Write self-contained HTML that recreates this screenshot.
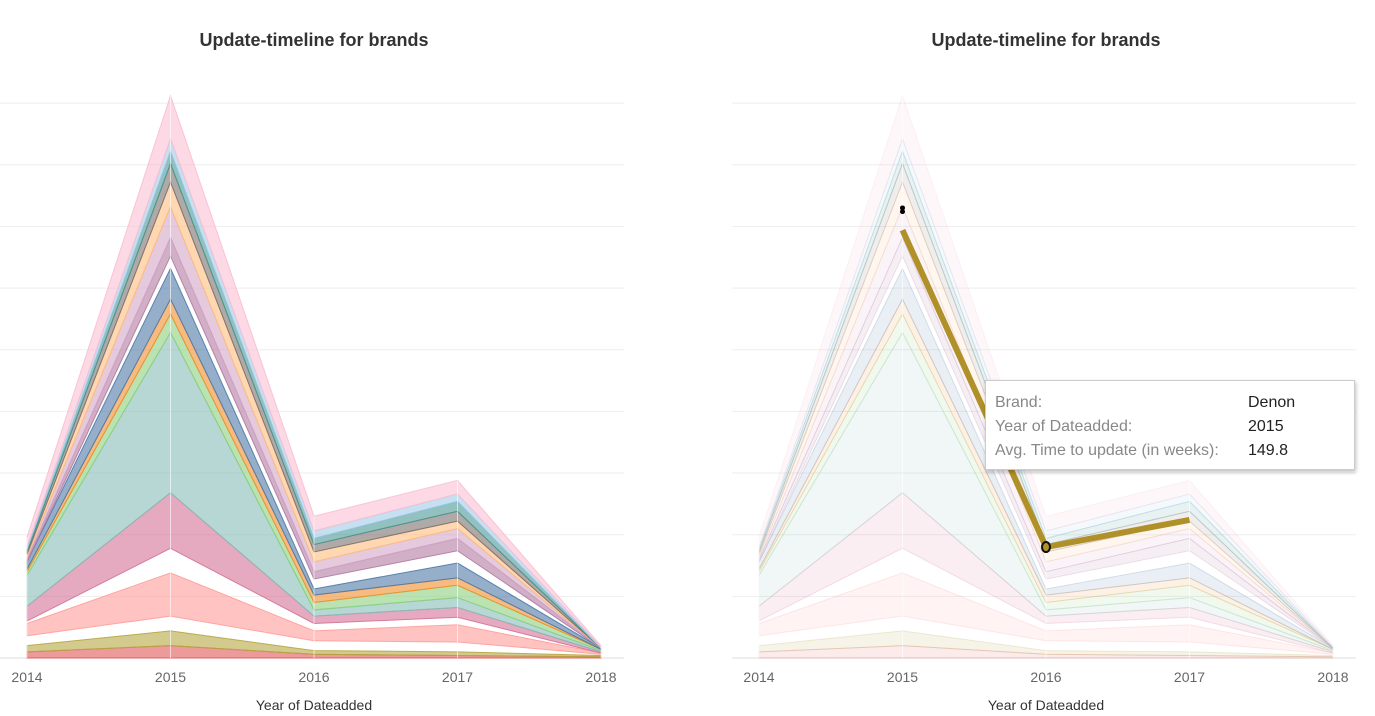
<!DOCTYPE html>
<html><head><meta charset="utf-8">
<style>
body{margin:0;background:#fff;font-family:"Liberation Sans",sans-serif;}
svg{display:block}
.title{font-weight:bold;font-size:18px;fill:#333}
.tick{font-size:14px;fill:#666}
.axt{font-size:14px;fill:#333}
#tip{position:absolute;left:985px;top:380px;width:368px;height:88px;background:#fff;border:1px solid #ccc;box-shadow:1px 2px 4px rgba(0,0,0,.25);font-size:16px}
#tip div{position:absolute;left:9px}
#tip span{position:absolute;left:253px;color:#222}
</style></head><body>
<svg id="chart" width="1375" height="716"></svg>
<div id="tip">
<div style="top:13px;color:#888">Brand:<span>Denon</span></div>
<div style="top:37px;color:#888">Year of Dateadded:<span>2015</span></div>
<div style="top:61px;color:#888">Avg. Time to update (in weeks):<span>149.8</span></div>
</div>
<script>
const years=["2014","2015","2016","2017","2018"];
const red=[5,10,3,2,1];
const olive=[5,12,3,3,1];
const gap1=[8,12,8,8,1];
const salmon=[10,35,8,14,1];
const gap2=[2,20,6,6,0];
const mauve=[12,45,6,8,1];
const teal=[25,130,5,8,1];
const green=[3,15,6,10,1];
const orange=[2,12,6,6,0];
const blue=[6,25,5,12,1];
const gap3=[0,10,8,10,0];
const purple=[2,15,6,10,0];
const lilac=[2,25,8,8,0];
const peach=[2,20,8,6,0];
const gray=[2,15,6,8,0];
const darkteal=[2,10,5,8,0];
const lightblue=[2,10,6,6,1];
const pink=[8,35,12,11,1];
const series=[red,olive,gap1,salmon,gap2,mauve,teal,green,orange,blue,gap3,purple,lilac,peach,gray,darkteal,lightblue,pink];
const colors=["#e15759","#b5a642","none","#ff9d9a","none","#d37295","#86bcb6","#8cd17d","#f28e2b","#4e79a7","none","#b07aa1","#d4a6c8","#ffbe7d","#79706e","#499894","#a0cbe8","#fabfd2"];
const denonYears=["2015","2016","2017"];
const denonTop=[347,90,112];
const gridTicks=[0,50,100,150,200,250,300,350,400,450];
const svg=document.getElementById('chart');
const NS="http://www.w3.org/2000/svg";
function y(v){return 658-v*1.233;}
function mk(t,a){const e=document.createElementNS(NS,t);for(const k in a)e.setAttribute(k,a[k]);svg.appendChild(e);return e;}
function drawPanel(x0,dim,hl){
  const xs=i=>x0+i*143.5;
  const title=mk('text',{x:x0+287,y:46,'text-anchor':'middle',class:'title'});title.textContent='Update-timeline for brands';
  
  
  gridTicks.forEach(g=>{const l=mk('line',{x1:x0-27,x2:x0+597,y1:y(g),y2:y(g),stroke:g==0?'#ddd':'#eee'});
    
    });
  let base=[0,0,0,0,0];
  series.forEach((s,k)=>{
    const top=s.map((v,i)=>base[i]+v);
    if(colors[k]!=='none'){
      let d='M'+years.map((_,i)=>xs(i)+','+y(top[i])).join('L');
      d+='L'+years.map((_,i)=>xs(4-i)+','+y(base[4-i])).join('L')+'Z';
      const p=mk('path',{d:d,fill:colors[k],'fill-opacity':dim?0.12:0.6,stroke:colors[k],'stroke-opacity':dim?0.2:0.9,'stroke-width':1});
      
      
    }
    base=top;
  });
  years.forEach((yr,i)=>{
    const l=mk('line',{x1:xs(i),x2:xs(i),y1:y(0),y2:y(base[i]),stroke:'#fff','stroke-opacity':0.6});
    
    
    const t=mk('text',{x:xs(i),y:682,'text-anchor':'middle',class:'tick'});t.textContent=yr;
    
    
  });
  const at=mk('text',{x:x0+287,y:710,'text-anchor':'middle',class:'axt'});at.textContent='Year of Dateadded';
  
  
  if(hl){
    const pts=denonYears.map((yr,i)=>[xs(years.indexOf(yr)),y(denonTop[i])]);
    const d='M'+pts.map(p=>p.join(',')).join('L');
    const ln=mk('path',{d:d,fill:'none',stroke:'#b09028','stroke-width':6});
    
    
    const c=mk('ellipse',{cx:pts[1][0],cy:pts[1][1],rx:4,ry:5,fill:'#b09028',stroke:'#111','stroke-width':2});
    
    
    const dot=mk('circle',{cx:pts[0][0],cy:y(365),r:2.5,fill:'#000'});
    
    
    const dot2=mk('circle',{cx:pts[0][0],cy:y(362),r:2.5,fill:'#000'});
    
    
  }
}
drawPanel(27,false,false);
drawPanel(759,true,true);
</script>
</body></html>
